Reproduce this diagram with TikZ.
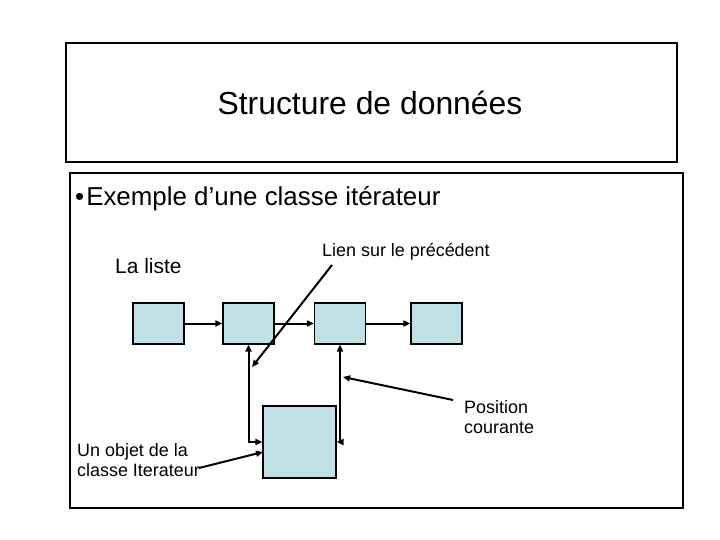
\documentclass[tikz,border=0pt]{standalone}
\usepackage{fontspec}
\setmainfont{Liberation Sans}
\usetikzlibrary{arrows.meta}
\definecolor{boxfill}{RGB}{191,224,228}
\begin{document}
\begin{tikzpicture}[x=1bp,y=-1bp,
  frame/.style={draw=black,line width=1.4bp},
  cell/.style={draw=black,line width=1.2bp,fill=boxfill,inner sep=0pt},
  link/.style={line width=2bp,-{Triangle[length=7bp,width=6bp]}},
  dlink/.style={line width=2bp,{Triangle[length=7bp,width=6bp]}-{Triangle[length=7bp,width=6bp]}},
  lbl/.style={inner sep=0pt,font=\fontsize{18}{20}\selectfont,align=left}]
\useasboundingbox[fill=white] (0,0) rectangle (720,540);
% frames
\draw[frame] (66,43) rectangle (677,162);
\draw[frame] (70,173) rectangle (683,508);
% titles
\node[inner sep=0pt,anchor=base,font=\fontsize{32}{38}\selectfont] (title) at (370,115) {Structure de données};
\node[inner sep=0pt,anchor=base west,font=\fontsize{26}{31}\selectfont] (sub) at (75,206) {•\kern2bp Exemple d’une classe itérateur};
\node[inner sep=0pt,anchor=base west,font=\fontsize{21}{25}\selectfont] (liste) at (115,274) {La liste};
% list cells
\node[cell,minimum width=51bp,minimum height=41bp] (b1) at (158.5,323.5) {};
\node[cell,minimum width=51bp,minimum height=41bp] (b2) at (248.5,323.5) {};
\node[cell,minimum width=51bp,minimum height=41bp] (b3) at (340,323.5) {};
\node[cell,minimum width=51bp,minimum height=41bp] (b4) at (436.5,323.5) {};
\node[cell,minimum width=73bp,minimum height=72bp] (big) at (299.5,442) {};
% list links
\draw[link] (b1) -- (b2);
\draw[link] (b2) -- (b3);
\draw[link] (b3) -- (b4);
% iterator links
\draw[dlink] (b2.south) |- (big.west);
\draw[dlink] (b3.south) |- (big.east);
% labels
\node[lbl,anchor=base west] (lien) at (322,257) {Lien sur le précédent};
\node[lbl,anchor=base west] (pos) at (464,433) {Position\\courante};
\node[lbl,anchor=base west] (objet) at (77,476) {Un objet de la\\classe Iterateur};
\coordinate (lienS) at (332,265);
\coordinate (lienT) at (252,367);
\coordinate (posS) at (453,400);
\coordinate (posT) at (343,377);
\coordinate (objS) at (199,468);
\coordinate (objT) at (263,452);
\draw[link] (lienS) -- (lienT);
\draw[link] (posS) -- (posT);
\draw[link] (objS) -- (objT);
\end{tikzpicture}
\end{document}
